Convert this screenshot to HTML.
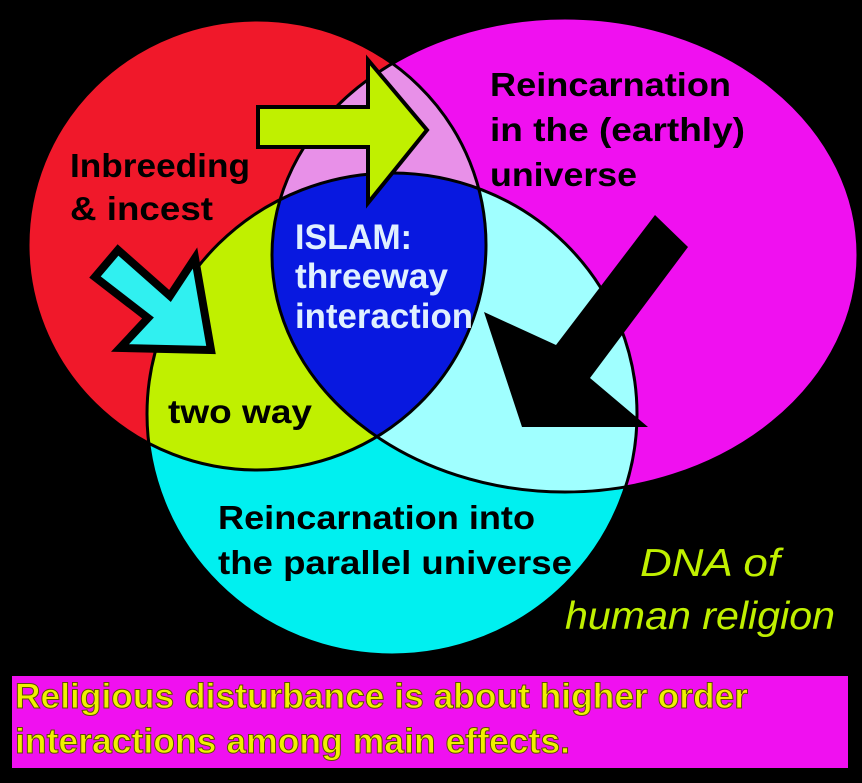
<!DOCTYPE html>
<html><head><meta charset="utf-8"><style>
html,body{margin:0;padding:0;background:#000;}
svg{display:block;}
.b{font-family:"Liberation Sans",sans-serif;font-weight:bold;}
</style></head><body>
<svg width="862" height="783" viewBox="0 0 862 783" xmlns="http://www.w3.org/2000/svg">
<defs>
<clipPath id="cr"><ellipse cx="257" cy="245" rx="229" ry="225"/></clipPath>
<clipPath id="cm"><ellipse cx="565" cy="255" rx="293" ry="237"/></clipPath>
<clipPath id="cc"><ellipse cx="392" cy="414" rx="245" ry="241"/></clipPath>
</defs>
<rect width="862" height="783" fill="#000"/>
<ellipse cx="257" cy="245" rx="229" ry="225" fill="#f0182a"/>
<ellipse cx="565" cy="255" rx="293" ry="237" fill="#f010f0"/>
<ellipse cx="392" cy="414" rx="245" ry="241" fill="#00f0f0"/>
<g clip-path="url(#cr)"><ellipse cx="565" cy="255" rx="293" ry="237" fill="#e890e8"/></g>
<g clip-path="url(#cr)"><ellipse cx="392" cy="414" rx="245" ry="241" fill="#c0f000"/></g>
<g clip-path="url(#cm)"><ellipse cx="392" cy="414" rx="245" ry="241" fill="#a0ffff"/></g>
<g clip-path="url(#cr)"><g clip-path="url(#cm)"><ellipse cx="392" cy="414" rx="245" ry="241" fill="#0818e0"/></g></g>
<g fill="none" stroke="#000" stroke-width="3">
<ellipse cx="257" cy="245" rx="229" ry="225"/>
<ellipse cx="565" cy="255" rx="293" ry="237"/>
<ellipse cx="392" cy="414" rx="245" ry="241"/>
</g>
<polygon points="258,107 368,107 368,60 427,130 368,203 368,147 258,147" fill="#c0f000" stroke="#000" stroke-width="4" stroke-linejoin="miter"/>
<polygon points="118,250 170,296 195,258 211,350 120,348 148,318 95,277" fill="#30f0f0" stroke="#000" stroke-width="8" stroke-linejoin="miter"/>
<polygon points="655,215 688,247 590,378 648,427 522,427 484,312 556,345" fill="#000"/>
<g class="b" fill="#000" font-size="33">
<text x="70" y="177" textLength="180" lengthAdjust="spacingAndGlyphs">Inbreeding</text>
<text x="70" y="220" textLength="143" lengthAdjust="spacingAndGlyphs">&amp; incest</text>
<text x="490" y="96" textLength="241" lengthAdjust="spacingAndGlyphs">Reincarnation</text>
<text x="490" y="141" textLength="255" lengthAdjust="spacingAndGlyphs">in the (earthly)</text>
<text x="490" y="186" textLength="147" lengthAdjust="spacingAndGlyphs">universe</text>
<text x="168" y="423" textLength="144" lengthAdjust="spacingAndGlyphs">two way</text>
<text x="218" y="529" textLength="317" lengthAdjust="spacingAndGlyphs">Reincarnation into</text>
<text x="218" y="574" textLength="354" lengthAdjust="spacingAndGlyphs">the parallel universe</text>
</g>
<g class="b" fill="#e0f0ff" font-size="35">
<text x="295" y="249" textLength="117" lengthAdjust="spacingAndGlyphs">ISLAM:</text>
<text x="295" y="288" textLength="153" lengthAdjust="spacingAndGlyphs">threeway</text>
<text x="295" y="328" textLength="178" lengthAdjust="spacingAndGlyphs">interaction</text>
</g>
<g font-family="Liberation Sans, sans-serif" font-style="italic" fill="#c0f000" font-size="39">
<text x="640" y="576" textLength="140" lengthAdjust="spacingAndGlyphs">DNA  of</text>
<text x="565" y="629" textLength="270" lengthAdjust="spacingAndGlyphs">human religion</text>
</g>
<rect x="12" y="676" width="836" height="92" fill="#f010f0"/>
<g class="b" font-size="35" fill="#f0f000" stroke="#605000" stroke-width="1">
<text x="15" y="708" textLength="733" lengthAdjust="spacingAndGlyphs">Religious disturbance is about higher order</text>
<text x="15" y="753" textLength="555" lengthAdjust="spacingAndGlyphs">interactions among main effects.</text>
</g>
</svg>
</body></html>
